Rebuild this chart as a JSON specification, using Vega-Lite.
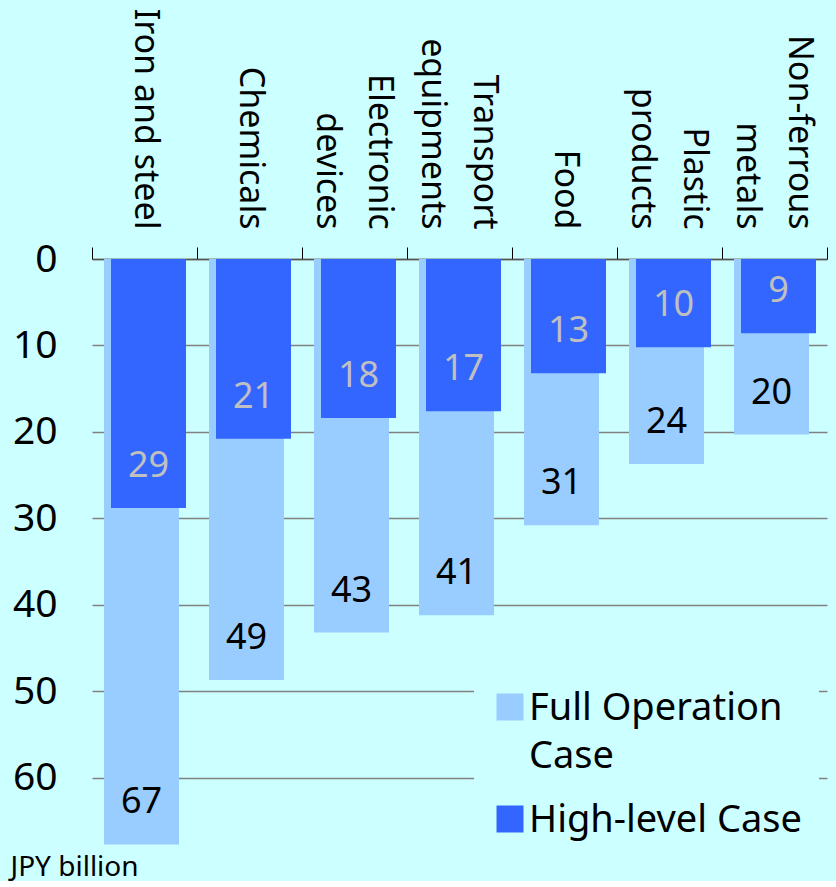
{
  "$schema": "https://vega.github.io/schema/vega-lite/v6.json",
  "width": 735,
  "height": 588,
  "padding": {"left": 10, "top": 8, "right": 9, "bottom": 0},
  "background": "#ccffff",
  "config": {"view": {"stroke": null}, "font": "Noto Sans"},
  "data": {"values": [
    {"sector": "Iron and steel", "series": "Full Operation Case", "value": 67.7, "label": "67"},
    {"sector": "Iron and steel", "series": "High-level Case", "value": 28.8, "label": "29"},
    {"sector": "Chemicals", "series": "Full Operation Case", "value": 48.7, "label": "49"},
    {"sector": "Chemicals", "series": "High-level Case", "value": 20.8, "label": "21"},
    {"sector": "Electronic devices", "series": "Full Operation Case", "value": 43.2, "label": "43"},
    {"sector": "Electronic devices", "series": "High-level Case", "value": 18.4, "label": "18"},
    {"sector": "Transport equipments", "series": "Full Operation Case", "value": 41.2, "label": "41"},
    {"sector": "Transport equipments", "series": "High-level Case", "value": 17.6, "label": "17"},
    {"sector": "Food", "series": "Full Operation Case", "value": 30.8, "label": "31"},
    {"sector": "Food", "series": "High-level Case", "value": 13.2, "label": "13"},
    {"sector": "Plastic products", "series": "Full Operation Case", "value": 23.7, "label": "24"},
    {"sector": "Plastic products", "series": "High-level Case", "value": 10.2, "label": "10"},
    {"sector": "Non-ferrous metals", "series": "Full Operation Case", "value": 20.3, "label": "20"},
    {"sector": "Non-ferrous metals", "series": "High-level Case", "value": 8.6, "label": "9"}
  ]},
  "encoding": {
    "x": {
      "field": "sector", "type": "nominal", "sort": null,
      "scale": {"paddingInner": 0, "paddingOuter": 0},
      "axis": {
        "orient": "top", "title": null, "labelAngle": 90, "labelAlign": "right", "labelBaseline": "middle",
        "labelFontSize": 34, "labelColor": "#000000", "labelLimit": 400, "labelPadding": 18, "labelLineHeight": 52,
        "labelOffset": {"condition": {"test": "datum.value == 'Electronic devices' || datum.value == 'Transport equipments' || datum.value == 'Plastic products' || datum.value == 'Non-ferrous metals'", "value": 24}, "value": 0},
        "tickBand": "extent", "tickSize": 12, "tickColor": "#000000", "tickWidth": 1,
        "domainColor": "#555555", "domainWidth": 1.5, "grid": false,
        "labelExpr": "datum.value == 'Electronic devices' ? ['Electronic','devices'] : datum.value == 'Transport equipments' ? ['Transport','equipments'] : datum.value == 'Plastic products' ? ['Plastic','products'] : datum.value == 'Non-ferrous metals' ? ['Non-ferrous','metals'] : datum.label"
      }
    },
    "y": {
      "field": "value", "type": "quantitative",
      "scale": {"domain": [0, 68], "nice": false, "reverse": true},
      "axis": {
        "orient": "left", "title": "JPY billion", "titleAngle": 0, "titleAlign": "left", "titleBaseline": "alphabetic",
        "titleX": -82, "titleY": 616, "titleFontSize": 28, "titleFontWeight": "normal", "titleColor": "#000000",
        "values": [0, 10, 20, 30, 40, 50, 60],
        "domain": false, "ticks": false, "grid": true, "gridColor": "#808080", "gridWidth": 1.5,
        "labelFontSize": 39, "labelColor": "#000000", "labelPadding": 35
      }
    }
  },
  "layer": [
    {
      "transform": [{"filter": "datum.series == 'Full Operation Case'"}],
      "mark": {"type": "bar", "width": 75, "xOffset": -3},
      "encoding": {
        "color": {
          "field": "series", "type": "nominal",
          "scale": {"domain": ["Full Operation Case", "High-level Case"], "range": ["#99ccff", "#3366ff"]},
          "legend": {
            "title": null, "orient": "none", "legendX": 382, "legendY": 412, "fillColor": "#ccffff", "padding": 17,
            "symbolType": "square", "symbolSize": 729, "symbolStrokeWidth": 0, "symbolOpacity": 1,
            "labelFontSize": 38, "labelColor": "#000000", "labelLimit": 400, "labelOffset": 0,
            "labelBaseline": "alphabetic", "rowPadding": 24,
            "labelExpr": "datum.label == 'Full Operation Case' ? ['Full Operation','Case'] : datum.label",
            "encoding": {"labels": {"lineHeight": {"value": 48}, "dy": {"value": 13}}}
          }
        }
      }
    },
    {
      "transform": [{"filter": "datum.series == 'High-level Case'"}],
      "mark": {"type": "bar", "width": 75, "xOffset": 4},
      "encoding": {
        "color": {"field": "series", "type": "nominal"}
      }
    },
    {
      "transform": [{"filter": "datum.series == 'Full Operation Case'"}],
      "mark": {"type": "text", "dy": -42, "xOffset": -3, "fontSize": 36, "color": "#000000", "baseline": "middle"},
      "encoding": {"text": {"field": "label"}}
    },
    {
      "transform": [{"filter": "datum.series == 'High-level Case'"}],
      "mark": {"type": "text", "dy": -42, "xOffset": 4, "fontSize": 36, "color": "#c0c0c0", "baseline": "middle"},
      "encoding": {"text": {"field": "label"}}
    }
  ]
}
